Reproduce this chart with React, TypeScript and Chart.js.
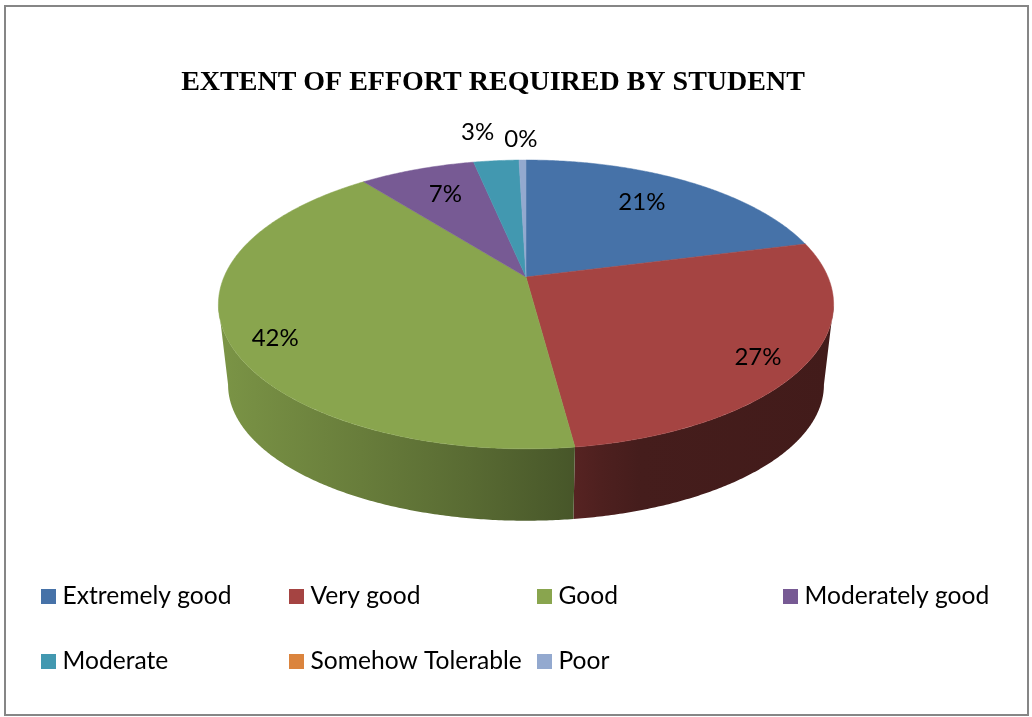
import React, { useEffect, useRef } from "react";
import { Chart, registerables } from "chart.js";

Chart.register(...registerables);

const titleText = "EXTENT OF EFFORT REQUIRED BY STUDENT";
const categories = ["Extremely good", "Very good", "Good", "Moderately good", "Moderate", "Somehow Tolerable", "Poor"];
const shares = [21, 26.9, 41.5, 7.3, 2.86, 0, 0.44];
const sliceColors = ["#4672a8", "#a54442", "#89a54e", "#775a94", "#4298b0", "#db843d", "#93a9cf"];

// Perspective model of the tilted disc (top face and bottom rim)
const TILT = -0.19;
const TOP_FACE = { cx: 526, cy: 277, a: 302, b: 139.2 };
const BOTTOM_RIM = { cx: 526, cy: 359, a: 292.5, b: 131 };

// Label placement relative to each slice: radius fraction, angle offset in degrees
const labelRadius = [0.736, 0.865, 0.867, 0.737, 1.315, 0, 1.221];
const labelTurn = [-2.3, 2.8, -5.0, 0.9, -2, 0, -0.2];

// Side wall shading, left to right on screen: [gradient position, brightness]
const wallShade: [number, number][][] = [
  [[0, 0.6], [1, 0.5]],
  [[0, 0.52], [0.1, 0.47], [0.25, 0.42], [1, 0.4]],
  [[0, 0.9], [0.1, 0.86], [0.4, 0.76], [0.7, 0.65], [1, 0.52]],
  [[0, 0.7], [1, 0.6]],
  [[0, 0.7], [1, 0.6]],
  [[0, 0.7], [1, 0.6]],
  [[0, 0.7], [1, 0.6]],
];

const legendCols = [41, 289, 537, 783];
const legendRows = [596, 661];
const UI_FONT = "Lato, 'Open Sans', sans-serif";

function project(face: typeof TOP_FACE, theta: number, r = 1) {
  const u = r * Math.sin(theta);
  const v = -r * Math.cos(theta);
  const d = 1 + TILT * v;
  return { x: face.cx + (face.a * u) / d, y: face.cy + (face.b * v) / d };
}

function shade(hex: string, f: number) {
  const n = parseInt(hex.slice(1), 16);
  const c = [(n >> 16) & 255, (n >> 8) & 255, n & 255].map((p) => Math.round(p * f));
  return `rgb(${c[0]},${c[1]},${c[2]})`;
}

const pie3d = {
  id: "pie3d",
  beforeDatasetDraw(chart: any) {
    const ctx: CanvasRenderingContext2D = chart.ctx;
    const arcs = chart.getDatasetMeta(0).data;
    const colors: string[] = chart.data.datasets[0].backgroundColor;
    const thetas = arcs.map((a: any) => [a.startAngle + Math.PI / 2, a.endAngle + Math.PI / 2]);
    const visLo = Math.acos(TILT);
    const visHi = 2 * Math.PI - visLo;

    // side walls
    thetas.forEach(([s, e]: number[], i: number) => {
      const lo = Math.max(s, visLo);
      const hi = Math.min(e, visHi);
      if (hi <= lo) return;
      const n = Math.max(2, Math.ceil((hi - lo) * 120));
      ctx.beginPath();
      for (let k = 0; k <= n; k++) {
        const p = project(TOP_FACE, lo + ((hi - lo) * k) / n);
        k ? ctx.lineTo(p.x, p.y) : ctx.moveTo(p.x, p.y);
      }
      for (let k = n; k >= 0; k--) {
        const p = project(BOTTOM_RIM, lo + ((hi - lo) * k) / n);
        ctx.lineTo(p.x, p.y);
      }
      ctx.closePath();
      const pa = project(TOP_FACE, lo);
      const pb = project(TOP_FACE, hi);
      const g = ctx.createLinearGradient(Math.min(pa.x, pb.x), 0, Math.max(pa.x, pb.x), 0);
      wallShade[i].forEach(([pos, f]) => g.addColorStop(pos, shade(colors[i], f)));
      ctx.fillStyle = g;
      ctx.fill();
    });

    // top faces
    thetas.forEach(([s, e]: number[], i: number) => {
      if (e - s <= 0) return;
      const n = Math.max(2, Math.ceil((e - s) * 120));
      ctx.beginPath();
      ctx.moveTo(TOP_FACE.cx, TOP_FACE.cy);
      for (let k = 0; k <= n; k++) {
        const p = project(TOP_FACE, s + ((e - s) * k) / n);
        ctx.lineTo(p.x, p.y);
      }
      ctx.closePath();
      ctx.fillStyle = colors[i];
      ctx.strokeStyle = colors[i];
      ctx.lineWidth = 0.5;
      ctx.fill();
      ctx.stroke();
    });

    // percent labels
    const values: number[] = chart.data.datasets[0].data;
    ctx.fillStyle = "#000";
    ctx.font = `24px ${UI_FONT}`;
    ctx.textAlign = "center";
    ctx.textBaseline = "middle";
    thetas.forEach(([s, e]: number[], i: number) => {
      if (!values[i]) return;
      const mid = (s + e) / 2 + (labelTurn[i] * Math.PI) / 180;
      const p = project(TOP_FACE, mid, labelRadius[i]);
      ctx.fillText(`${Math.round(values[i])}%`, p.x, p.y);
    });
    return false;
  },
  afterDraw(chart: any) {
    const ctx: CanvasRenderingContext2D = chart.ctx;
    const colors: string[] = chart.data.datasets[0].backgroundColor;
    ctx.save();
    // frame
    ctx.strokeStyle = "#868686";
    ctx.lineWidth = 2;
    ctx.strokeRect(5, 6, 1023, 709);
    // title
    ctx.fillStyle = "#000";
    ctx.font = "bold 28px 'Liberation Serif', serif";
    ctx.textAlign = "center";
    ctx.textBaseline = "middle";
    ctx.fillText(titleText, 493, 83);
    // legend
    ctx.font = `24.6px ${UI_FONT}`;
    ctx.textAlign = "left";
    chart.data.labels.forEach((label: string, i: number) => {
      const x = legendCols[i % 4];
      const y = legendRows[Math.floor(i / 4)];
      ctx.fillStyle = colors[i];
      ctx.fillRect(x, y - 7, 15, 15);
      ctx.fillStyle = "#000";
      ctx.fillText(label, x + 21.5, y);
    });
    ctx.restore();
  },
};

export default function App() {
  const ref = useRef<HTMLCanvasElement>(null);
  useEffect(() => {
    document.body.style.margin = "0";
    document.body.style.background = "#fff";
    const chart = new Chart(ref.current!, {
      type: "pie",
      data: {
        labels: categories,
        datasets: [{ data: shares, backgroundColor: sliceColors, borderWidth: 0 }],
      },
      options: {
        responsive: false,
        animation: false,
        plugins: { legend: { display: false }, tooltip: { enabled: false }, title: { display: false } },
      },
      plugins: [pie3d],
    } as any);
    return () => chart.destroy();
  }, []);
  return <canvas ref={ref} width={1032} height={717} style={{ display: "block" }} />;
}
